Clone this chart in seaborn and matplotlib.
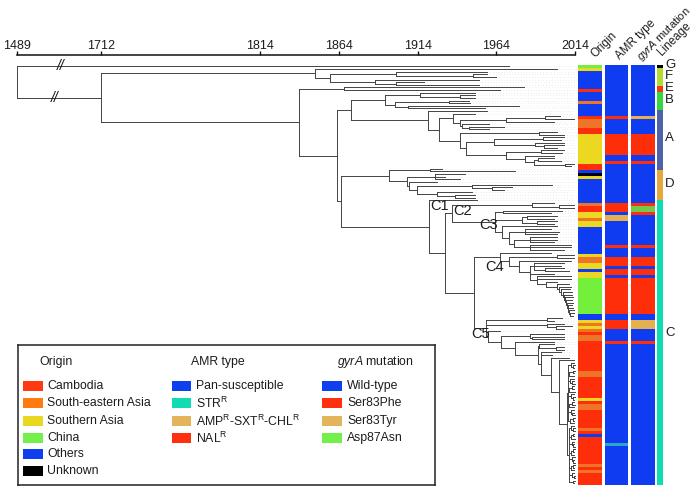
import numpy as np
import seaborn as sns
import matplotlib.pyplot as plt
from matplotlib.colors import ListedColormap
from matplotlib.patches import Rectangle

# axis of the tree, broken between 1489 and 1712
tick_years = [1489, 1712, 1814, 1864, 1914, 1964, 2014]
tick_pos = [0.0, 84.5, 243.5, 322.5, 401.5, 480.0, 559.0]

# tree: a node is [year, child, child, ...], a tip is just its year
upper_b1 = [1849, 2002.5,
            [1858,
             [1899.9, 1958, [1949, 1958, 1964]],
             [1886.5, 1953, [1899.9, 1917.7, 1953]]]]
upper_clade = [1892.9,
               [1915.1, 1950, [1940.6, 1950, 1950]],
               [1899.6, [1933.6, 1946.3, 1947.3], [1907.5, 1978, 1956.9]]]
clade_a = [1920.4, 1958,
           [1927.2,
            [1936.1, 1950.5,
             [1940.6,
              [1970.2, [1994.6, 2004, 2013], 2000.3],
              [1942, 1959, [1946.3, 1969, 1959]]]],
            [1941,
             [1990.8, 2002.5, 2006.7],
             [1944.8,
              [1962.2, [1993.3, 2006.7, 2004.6], [1988.3, 2006.7, [1994, 2006.7, 2002.5]]],
              [1970,
               [1991.9, 2006.7, 2005.6],
               [1981.9, 2000.3,
                [1987.6, [1990.2, 2000.3, 2004.6], [2007.1, 2013, 2011]]]]]]]]
clade_d = [1895.4,
           [1921.5, 1929.3, 1976],
           [1907,
            [1925.1, 1944.2, 1931.4, 1941],
            [1908.3, 1926.1,
             [1913.4,
              [1948.4, 1999.3, [1961.1, 1973.8, 1968.5]],
              [1926.1, 1948.4, [1937.8, 1950.5, 1950.5]]]]]]
clade_c2 = [1986.6, 2000.3, [2003.5, 2013, 2013]]
clade_c3 = [1963.2,
            [1968.1, 2005.6, 1998.2],
            [1980.2, [1983.4, 2002.5, 2000.3], [1989.7, 2002.5, 2000.3]],
            [1967.3, 2002.5,
             [1972.1,
              [1982.3, 1998.2, 2003.5, 2002.5],
              [1975.3, [1985, 2002.5, 2002, 2000.3], [1985.5, 2011, 2011, 2006.7]]]]]
c4_ladder = [2002, 2009.9,
             [2003.5, 2011,
              [2005, 2010.5,
               [2006, 2011.5,
                [2006.8, 2012,
                 [2007.5, 2012.5,
                  [2008, 2012,
                   [2008.5, 2012.5,
                    [2009, 2012,
                     [2009.5, 2012.5,
                      [2010, 2013,
                       [2010.3, 2013, 2012.5]]]]]]]]]]]]
clade_c4 = [1966, 1998.2,
            [1971.7,
             [2002.5, 2013, 2013],
             [1978.1, 2011,
              [1985,
               [1988, 2006.7, 2005, [1995, 2006.7, 2009.9]],
               [1985, 2000.3,
                [1989.7, 2011, 2011, [1995.5, 2002.5, c4_ladder]]]]]]]
comb_upper = [2009,
              [2011.2, 2013.2, [2012.2, 2013.4, 2013]],
              [2010.2, [2012.4, 2013.5, 2013.1], 2012.8],
              [2010.8, 2013, [2012, 2013.3, 2013.6]],
              [2009.8, [2011.8, 2013.2, 2012.9], 2013.4],
              [2011, 2012.9, [2012.3, 2013.6, 2013.2]],
              [2010, [2011.9, 2013.1, 2013.5], 2013],
              [2010.9, 2013.3, [2012.1, 2012.8, 2013.4]],
              [2010.4, [2012.5, 2013.6, 2013], 2013.2]]
comb_lower = [2010,
              [2011.4, 2013, [2012.6, 2013.4, 2013.7]],
              [2011, [2012.2, 2013.2, 2012.9], 2013.5],
              [2011.6, 2013.3, [2012.5, 2013, 2013.6]],
              [2011.1, [2012.4, 2013.4, 2013.1], 2012.9],
              [2011.8, 2013.5, [2012.7, 2013.2, 2013.8]],
              [2011.3, [2012.3, 2013.6, 2013], 2013.3],
              [2012, 2013.2, [2012.8, 2013.8, 2013.4]],
              [2012.2, 2013.6, 2013.1]]
comb = [2008.4, comb_upper, comb_lower]
c5_lower = [1958.4, 1966.4,
            [1966.8,
             [1985.5, 2006.7, [1986.6, 2006.7, 2006.7]],
             [1975.5, 2000.3,
              [1990.2,
               [1990.8, 2000.3, [2001.4, 2006.7, 2006.7]],
               [1991.9, 2004.6, 1999.3,
                [1998.6, 2009.9, [2003.5, 2013, comb]]]]]]]
clade_c5 = [1957.3,
            [1996.1, 2005.6, 2000.3],
            [1996.1, 2006.7, [2001.8, 2012, 2006.7]],
            c5_lower]
clade_c1 = [1920.8, 1951.6,
            [1931, [1935.5, clade_c2, clade_c3], [1949.9, clade_c4, clade_c5]]]
lower_b2 = [1838.6,
            [1867.2, 1981.3, 1966.4],
            [1862.5,
             [1871.9, upper_clade, clade_a],
             [1865.3, clade_d, clade_c1]]]
tree = [1489, 1972, [1712, upper_b1, lower_b2]]

# strips, as runs of rows from the top
origin_seq = ['CHN', 'SAS', 'OTH', 'CAM', 'OTH', 'SEA', 'OTH', 'CAM', 'SEA', 'CAM', 'SAS', 'CAM',
              'OTH', 'UNK', 'SAS', 'OTH', 'SEA', 'CAM', 'SAS', 'SEA', 'SAS', 'OTH', 'SAS', 'SEA',
              'SAS', 'OTH', 'SAS', 'CHN', 'OTH', 'SAS', 'SEA', 'SAS', 'SEA', 'CAM', 'SEA', 'CAM',
              'SEA', 'CAM', 'SAS', 'CAM', 'SEA', 'CAM', 'SEA', 'CAM', 'OTH', 'CAM', 'SEA', 'CAM',
              'SEA', 'CAM']
origin_len = [1, 1, 6, 1, 3, 1, 4, 1, 3, 2, 10, 2,
              1, 1, 1, 8, 1, 2, 2, 1, 2, 9, 1, 2,
              2, 1, 2, 12, 2, 1, 1, 1, 1, 1, 2, 10,
              2, 7, 1, 1, 2, 6, 1, 1, 1, 9, 1, 1,
              1, 4]
amr_seq = ['PAN', 'NAL', 'PAN', 'NAL', 'PAN', 'NAL', 'PAN', 'NAL', 'PAN', 'AMP', 'PAN', 'NAL', 'PAN',
           'NAL', 'PAN', 'NAL', 'PAN', 'NAL', 'PAN', 'NAL', 'PAN', 'NAL', 'PAN', 'STR', 'PAN']
amr_len = [17, 1, 5, 7, 2, 1, 13, 3, 1, 2, 8, 1, 3,
           3, 1, 2, 1, 12, 2, 3, 4, 1, 33, 1, 13]
gyra_seq = ['WT', 'TYR', 'WT', 'PHE', 'WT', 'PHE', 'WT', 'PHE', 'ASN', 'PHE', 'WT', 'PHE',
            'WT', 'PHE', 'WT', 'PHE', 'WT', 'PHE', 'WT', 'TYR', 'WT', 'PHE', 'WT']
gyra_len = [17, 1, 5, 7, 2, 1, 13, 1, 2, 1, 10, 1,
            3, 3, 1, 2, 1, 12, 2, 3, 4, 1, 47]
lineage_seq = ['G', 'F', 'E', 'B', 'A', 'D', 'C']
lineage_len = [1, 6, 2, 6, 20, 10, 95]

origin_colors = {'CAM': '#ff2e0a', 'SEA': '#ee7428', 'SAS': '#ecd820', 'CHN': '#74f03c',
                 'OTH': '#0f3cf0', 'UNK': '#000000'}
amr_colors = {'PAN': '#0f3cf0', 'STR': '#2ea6c8', 'AMP': '#e4b050', 'NAL': '#ff2e0a'}
gyra_colors = {'WT': '#0f3cf0', 'PHE': '#ff2e0a', 'TYR': '#e4b050', 'ASN': '#74c850'}
lineage_colors = {'G': '#000000', 'F': '#b4dc30', 'E': '#f03c14', 'B': '#34d83c',
                  'A': '#4f62a8', 'D': '#e4a83c', 'C': '#10dcb4'}

origin_labels = ['Cambodia', 'South-eastern Asia', 'Southern Asia', 'China', 'Others', 'Unknown']
origin_swatches = ['#ff3a10', '#ff7a10', '#e8d820', '#74f04c', '#0f40f0', '#000000']
amr_labels = ['Pan-susceptible', 'STR$^{\\mathrm{R}}$',
              'AMP$^{\\mathrm{R}}$-SXT$^{\\mathrm{R}}$-CHL$^{\\mathrm{R}}$', 'NAL$^{\\mathrm{R}}$']
amr_swatches = ['#0f40f0', '#10dcb4', '#e4b45a', '#ff3010']
gyra_labels = ['Wild-type', 'Ser83Phe', 'Ser83Tyr', 'Asp87Asn']
gyra_swatches = ['#0f40f0', '#ff3010', '#e4b45a', '#74f04c']

W, H = 696, 486
sns.set_theme(style='white')
plt.rcParams['font.family'] = ['Liberation Sans', 'DejaVu Sans']
plt.rcParams['mathtext.fontset'] = 'custom'
plt.rcParams['mathtext.rm'] = 'Liberation Sans'
plt.rcParams['mathtext.it'] = 'Liberation Sans:italic'

TEXT = '#1c1c1c'
LINE = '#444444'


def px_axes(fig, left, top, right, bottom, **kw):
    return fig.add_axes([left / W, 1 - bottom / H, (right - left) / W, (bottom - top) / H], **kw)


def count_tips(node):
    if not isinstance(node, list):
        return 1
    return sum(count_tips(c) for c in node[1:])


def layout(node, parent_year, next_tip, segs, tips):
    # returns node y, puts the line pieces into segs
    if not isinstance(node, list):
        y = next_tip[0]
        next_tip[0] += 1
        segs.append(([parent_year, node], [y, y]))
        tips.append((node, y))
        return y
    ys = [layout(c, node[0], next_tip, segs, tips) for c in node[1:]]
    y = (ys[0] + ys[-1]) / 2
    segs.append(([node[0], node[0]], [ys[0], ys[-1]]))
    segs.append(([parent_year, node[0]], [y, y]))
    return y


def draw_strip(ax, seq, lengths, colors):
    names = list(colors)
    codes = np.repeat([names.index(s) for s in seq], lengths).reshape(-1, 1)
    sns.heatmap(codes, ax=ax, cmap=ListedColormap([colors[n] for n in names]),
                vmin=-0.5, vmax=len(names) - 0.5, cbar=False,
                xticklabels=False, yticklabels=False)
    ax.set_xlabel('')
    ax.set_ylabel('')


fig = plt.figure(figsize=(W / 100, H / 100), dpi=100)

# tree
ax = px_axes(fig, 16.5, 55, 575.5, 485)
ax.patch.set_alpha(0)
ax.set_xscale('function', functions=(lambda v: np.interp(v, tick_years, tick_pos),
                                     lambda v: np.interp(v, tick_pos, tick_years)))
segs, tips = [], []
layout(tree, tree[0], [0], segs, tips)
for xs, ys in segs:
    ax.plot(xs, ys, color=LINE, lw=0.7, solid_capstyle='projecting', clip_on=False)
for year, y in tips:
    ax.plot([year, 2014], [y, y], color='#c6c6c6', lw=0.4, ls=(0, (1, 4)), zorder=0)

gap = (483.5 - 66.5) / (count_tips(tree) - 1)
ax.set_xlim(1489, 2014)
ax.set_ylim((485 - 66.5) / gap, (55 - 66.5) / gap)
ax.set_yticks([])
ax.set_xticks(tick_years)
ax.set_xticklabels([str(t) for t in tick_years])
ax.minorticks_off()
ax.xaxis.tick_top()
ax.tick_params(axis='x', direction='out', length=3, width=1, pad=-0.5, labelsize=9,
               color='#111111', labelcolor=TEXT, top=True, bottom=False)
for side in ['left', 'right', 'bottom']:
    ax.spines[side].set_visible(False)
ax.spines['top'].set_linewidth(1.1)
ax.spines['top'].set_color('#111111')

# axis break marks
ax.text(1606, 0, '//', fontsize=10, style='italic', color='#111111', ha='center', va='center')
ax.text(1591, (98.5 - 66.5) / gap, '//', fontsize=10, style='italic', color='#111111', ha='center', va='center')

# strips
draw_strip(px_axes(fig, 578, 65, 602, 485), origin_seq, origin_len, origin_colors)
draw_strip(px_axes(fig, 604.5, 65, 628, 485), amr_seq, amr_len, amr_colors)
draw_strip(px_axes(fig, 631, 65, 655, 485), gyra_seq, gyra_len, gyra_colors)
draw_strip(px_axes(fig, 657, 65, 663, 485), lineage_seq, lineage_len, lineage_colors)


def put(x, y, s, **kw):
    kw.setdefault('color', TEXT)
    fig.text(x / W, 1 - y / H, s, **kw)


# clade labels
for name, x, y in [('C1', 430, 210), ('C2', 453, 215), ('C3', 479, 229), ('C4', 485, 271), ('C5', 471, 338)]:
    put(x, y, name, fontsize=10.5, ha='left', va='baseline')

# lineage letters
for name, y in zip(lineage_seq, [65, 76, 88, 100, 138, 184, 333]):
    put(665, y, name, fontsize=9.5, ha='left', va='center')

# column headers
for name, x, y, size in [('Origin', 595.5, 58, 8.4), ('AMR type', 619.5, 60, 8.4),
                         ('$\\mathit{gyrA}$ mutation', 641.5, 61, 8.1), ('Lineage', 661.5, 56, 8.4)]:
    put(x, y, name, fontsize=size, rotation=45, rotation_mode='anchor', ha='left', va='baseline')

# legend box
leg = px_axes(fig, 18, 345, 435, 484.5)
leg.set_xlim(18, 435)
leg.set_ylim(484.5, 345)
leg.set_xticks([])
leg.set_yticks([])
for s in leg.spines.values():
    s.set_visible(True)
    s.set_color('#222222')
    s.set_linewidth(1.1)

rows = [386, 403, 421, 438, 454, 471]
columns = [(23, 47, origin_labels, origin_swatches),
           (172, 196, amr_labels, amr_swatches),
           (322.5, 347, gyra_labels, gyra_swatches)]
for swatch_x, text_x, labels, swatches in columns:
    for label, color, y in zip(labels, swatches, rows):
        leg.add_patch(Rectangle((swatch_x, y - 5), 19.5, 10, facecolor=color, edgecolor='none'))
        leg.text(text_x, y, label, fontsize=8.8, color=TEXT, ha='left', va='center')
for title, x in [('Origin', 39), ('AMR type', 191), ('$\\mathit{gyrA}$ mutation', 337.5)]:
    leg.text(x, 362.5, title, fontsize=8.8, color=TEXT, ha='left', va='center')

plt.savefig('out.png', dpi=100)
plt.close()
